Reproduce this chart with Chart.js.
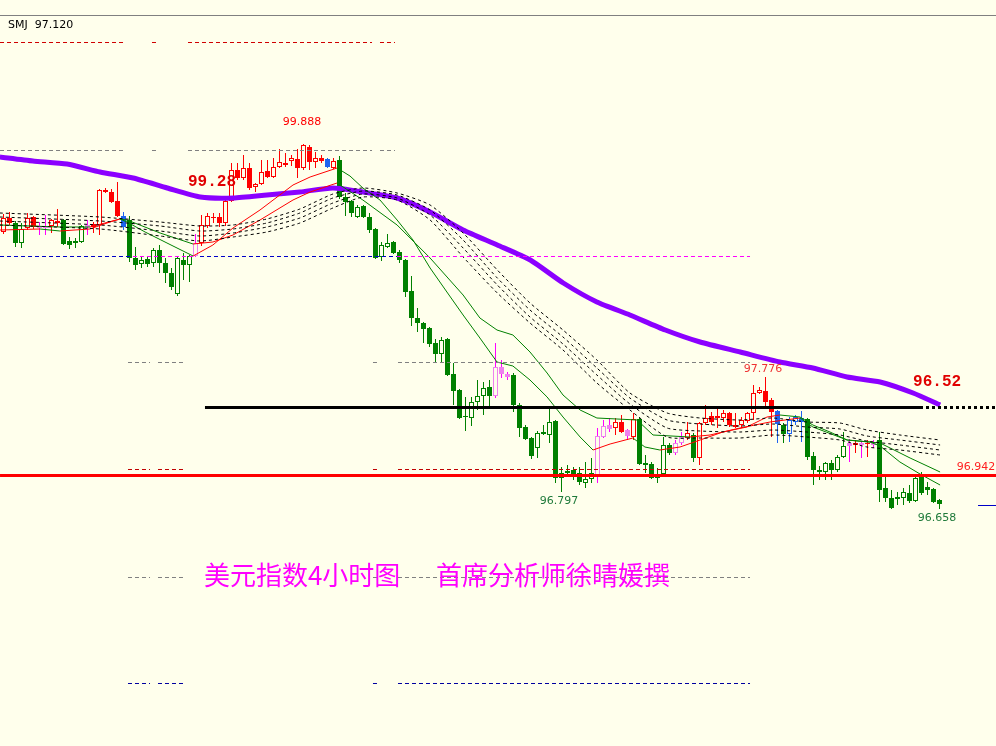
<!DOCTYPE html>
<html><head><meta charset="utf-8">
<script src="https://cdn.jsdelivr.net/npm/chart.js@4.4.1/dist/chart.umd.min.js"></script>
<style>
html,body{margin:0;padding:0;background:#FFFFEC;overflow:hidden}
#wrap{position:relative;width:996px;height:746px}
canvas{display:block}
</style></head>
<body><div id="wrap"><canvas id="c" width="996" height="746"></canvas></div>
<script>
// ---------- DATA ----------
const candleOpen = [99.102,99.228,99.183,99.003,99.138,99.237,99.156,99.147,99.156,99.201,
99.210,99.021,99.003,99.012,99.165,99.174,99.165,99.480,99.462,99.381,
99.246,99.210,98.868,98.814,98.859,98.823,98.940,98.823,98.733,98.544,
98.850,98.805,98.886,99.003,99.156,99.237,99.237,99.183,99.381,99.660,
99.588,99.678,99.507,99.534,99.651,99.597,99.687,99.723,99.741,99.759,
99.678,99.867,99.732,99.768,99.759,99.678,99.750,99.417,99.381,99.237,
99.336,99.237,99.129,98.877,98.967,99.012,98.922,98.850,98.571,98.328,
98.283,98.238,98.103,98.004,98.139,97.824,97.680,97.446,97.428,97.572,
97.626,97.707,97.626,97.887,97.824,97.815,97.545,97.347,97.248,97.158,
97.302,97.275,97.401,96.888,96.951,96.960,96.933,96.843,96.879,96.915,
97.257,97.365,97.338,97.392,97.320,97.257,97.419,97.023,97.014,96.888,
96.924,97.185,97.113,97.203,97.248,97.275,97.068,97.383,97.446,97.446,
97.428,97.473,97.365,97.365,97.401,97.473,97.653,97.671,97.590,97.491,
97.365,97.284,97.392,97.428,97.419,97.086,96.960,96.942,97.023,96.960,
97.077,97.203,97.203,97.203,97.203,97.203,97.230,96.798,96.708,96.717,
96.708,96.753,96.681,96.897,96.807,96.789,96.690];
const candleHigh = [99.264,99.282,99.201,99.183,99.273,99.246,99.192,99.255,99.219,99.309,
99.219,99.057,99.048,99.165,99.210,99.192,99.489,99.498,99.489,99.552,
99.282,99.246,98.967,98.877,98.877,98.958,98.985,98.868,98.778,98.877,
98.913,98.895,99.084,99.255,99.273,99.273,99.273,99.390,99.723,99.723,
99.795,99.723,99.543,99.750,99.750,99.768,99.849,99.813,99.795,99.849,
99.894,99.885,99.822,99.795,99.768,99.768,99.786,99.453,99.390,99.345,
99.345,99.273,99.138,99.012,99.084,99.021,98.940,98.859,98.706,98.418,
98.292,98.247,98.139,98.157,98.148,97.923,97.689,97.617,97.617,97.770,
97.752,97.770,98.103,97.950,97.842,97.833,97.563,97.365,97.257,97.311,
97.365,97.518,97.410,96.987,97.005,96.987,96.987,97.032,97.068,97.338,
97.410,97.428,97.428,97.455,97.329,97.473,97.428,97.095,97.032,96.978,
97.257,97.203,97.230,97.302,97.392,97.293,97.392,97.545,97.482,97.518,
97.500,97.482,97.473,97.437,97.482,97.725,97.707,97.797,97.608,97.500,
97.383,97.437,97.455,97.491,97.428,97.122,96.996,97.032,97.050,97.095,
97.302,97.239,97.230,97.221,97.230,97.230,97.302,96.897,96.780,96.762,
96.798,96.825,96.897,96.942,96.852,96.798,96.699];
const candleLow = [99.084,99.165,98.967,98.958,99.120,99.129,99.075,99.075,99.093,99.147,
98.985,98.949,98.958,99.003,99.075,99.093,99.075,99.453,99.363,99.237,
99.120,98.832,98.760,98.778,98.787,98.787,98.733,98.643,98.580,98.526,
98.670,98.652,98.877,98.976,99.138,99.183,99.147,99.156,99.372,99.570,
99.570,99.480,99.462,99.525,99.588,99.588,99.678,99.687,99.696,99.588,
99.660,99.660,99.678,99.723,99.678,99.669,99.399,99.246,99.237,99.228,
99.228,99.093,98.859,98.841,98.958,98.904,98.823,98.517,98.256,98.202,
98.103,98.067,97.923,97.923,97.806,97.545,97.419,97.311,97.356,97.500,
97.455,97.536,97.608,97.788,97.770,97.482,97.257,97.230,97.059,97.068,
97.275,97.203,96.843,96.762,96.897,96.870,96.825,96.798,96.843,96.843,
97.248,97.302,97.275,97.293,97.230,97.230,97.005,96.933,96.879,96.843,
96.915,97.095,97.095,97.185,97.230,97.032,97.005,97.365,97.365,97.338,
97.392,97.347,97.338,97.338,97.383,97.410,97.644,97.527,97.257,97.203,
97.203,97.212,97.365,97.212,97.050,96.825,96.870,96.870,96.870,96.942,
97.068,97.032,97.113,97.068,97.077,97.158,96.672,96.672,96.609,96.645,
96.645,96.663,96.672,96.735,96.735,96.663,96.609];
const candleClose = [99.228,99.183,99.003,99.129,99.228,99.147,99.138,99.138,99.210,99.183,
98.994,98.985,99.021,99.156,99.147,99.147,99.480,99.462,99.372,99.246,
99.147,98.868,98.805,98.850,98.814,98.940,98.823,98.733,98.607,98.868,
98.805,98.886,99.003,99.165,99.246,99.228,99.183,99.381,99.660,99.588,
99.678,99.498,99.534,99.642,99.597,99.687,99.732,99.705,99.768,99.678,
99.885,99.732,99.768,99.741,99.687,99.741,99.417,99.372,99.273,99.327,
99.237,99.120,98.868,98.985,99.003,98.913,98.850,98.562,98.328,98.283,
98.229,98.094,98.004,98.130,97.815,97.671,97.428,97.437,97.572,97.626,
97.698,97.626,97.887,97.824,97.797,97.545,97.338,97.239,97.086,97.293,
97.284,97.392,96.888,96.933,96.933,96.906,96.852,96.879,96.933,97.266,
97.356,97.329,97.392,97.302,97.266,97.419,97.014,97.005,96.888,96.924,
97.185,97.113,97.203,97.257,97.293,97.068,97.383,97.428,97.392,97.428,
97.473,97.365,97.347,97.410,97.473,97.653,97.680,97.572,97.482,97.374,
97.284,97.410,97.437,97.392,97.077,96.960,96.942,97.023,96.960,97.077,
97.176,97.176,97.185,97.185,97.194,97.185,96.780,96.708,96.618,96.699,
96.762,96.681,96.888,96.753,96.780,96.672,96.654];
// candle colour class per bar: g = green, r = red, p = violet, b = blue
const candleClass = ("rrggrrpprrggggprrrrrb" + "ggggggggggg" + "p" + "rrrrrrrrrrrrrrrrrrrrr" + "b" + "r" +
  "gggggggggggggggggggggggggg" + "ppp" + "gggggggggggggg" + "ppp" + "rr" + "p" + "r" + "gggggg" + "pp" + "r" + "g" +
  "rrrrrrrrrrrrr" + "b" + "g" + "bbb" + "ggggggg" + "prprp" + "ggggggggggg").split('');

// fast / slow moving averages (bar index, price)
const fastIdx = [-0.6,6.1,9.4,14.4,17.75,19.4,20.6,23.6,27.25,31.6,34.9,38.25,42.75,48.25,51.1,55.6,57.75,59.9,62.75,65.6,68.25,71.1,73.9,76.6,79.4,82.25,84.9,87.75,90.6,93.25,96.1,98.25,101.1,104.9,106.9,109.4,112.75,116.1,119.9,123.9,127.25,129.4,132.75,134.9,137.75,140.6,144.4,146.1,149.4,152.75,156.1];
const fastVal = [99.120,99.129,99.111,99.129,99.192,99.219,99.192,99.102,99.003,98.886,98.985,99.138,99.300,99.525,99.597,99.678,99.606,99.498,99.390,99.210,99.030,98.778,98.562,98.355,98.148,97.932,97.896,97.770,97.617,97.437,97.257,97.140,97.194,97.248,97.167,97.140,97.167,97.230,97.302,97.347,97.437,97.455,97.437,97.365,97.302,97.230,97.212,97.176,97.032,96.924,96.825];
const slowIdx = [-0.6,9.4,14.4,19.4,20.6,26.1,31.6,34.9,38.25,42.75,48.25,51.1,55.6,59.9,65.6,71.1,76.6,79.4,82.25,84.9,87.75,90.6,93.25,96.1,98.9,105.6,108.25,114.4,117.75,122.75,127.75,132.75,134.9,140.6,146.1,151.1,156.1];
const slowVal = [99.165,99.147,99.147,99.219,99.210,99.093,98.994,99.012,99.075,99.210,99.390,99.462,99.543,99.390,99.165,98.868,98.535,98.328,98.220,98.175,98.022,97.833,97.635,97.500,97.428,97.410,97.275,97.257,97.275,97.338,97.392,97.428,97.347,97.230,97.203,97.068,96.942];
// long moving average (purple)
const longIdx = [-0.6,4.9,10.6,16.1,21.6,27.3,32.8,38.3,43.9,49.4,54.9,59.9,65.6,71.1,76.6,82.3,87.8,93.3,98.9,104.4,110.3,116.1,122.8,129.4,134.9,140.6,146.1,151.6,156.1];
const longVal = [99.777,99.741,99.714,99.642,99.588,99.498,99.417,99.408,99.435,99.462,99.498,99.462,99.408,99.282,99.120,98.985,98.850,98.643,98.472,98.355,98.220,98.112,98.022,97.932,97.878,97.797,97.752,97.653,97.545];
// dashed band (four averages)
const bandIdx = [-0.6,16.1,26.1,32.75,38.25,43.9,49.4,54.9,59.9,65.6,71.1,76.6,82.3,87.75,93.25,98.9,104.4,110.6,116.1,122.75,128.25,133.9,139.4,143.9,149.4,156.1];
const band1 = [99.273,99.237,99.192,99.156,99.165,99.219,99.309,99.444,99.498,99.453,99.345,99.093,98.760,98.463,98.220,97.950,97.653,97.473,97.428,97.410,97.428,97.392,97.383,97.320,97.275,97.230];
const band2 = [99.237,99.201,99.156,99.111,99.129,99.183,99.273,99.408,99.471,99.435,99.300,99.030,98.688,98.400,98.157,97.878,97.608,97.410,97.374,97.356,97.374,97.347,97.329,97.266,97.230,97.185];
const band3 = [99.201,99.165,99.111,99.066,99.093,99.147,99.228,99.363,99.444,99.408,99.255,98.958,98.625,98.337,98.094,97.815,97.554,97.338,97.311,97.302,97.320,97.302,97.275,97.221,97.185,97.140];
const band4 = [99.165,99.129,99.066,99.021,99.057,99.102,99.183,99.318,99.417,99.390,99.210,98.877,98.553,98.283,98.040,97.743,97.500,97.257,97.248,97.248,97.275,97.257,97.230,97.167,97.140,97.095];

// horizontal price levels
const levelPrice = [100.812, 99.840, 98.886, 97.932, 96.969, 95.997, 95.043, 97.527, 96.915, 96.645];

// price annotations
const noteText  = ['99.888','99.28','97.776','96.797','96.658','96.942','96.52'];
const noteIdx   = [49.75, 34.75, 126.6, 92.6, 155.6, 162.1, 155.6];
const notePrice = [100.092, 99.552, 97.869, 96.681, 96.528, 96.987, 97.752];

const captionText = ['美元指数4小时图', '首席分析师徐晴媛撰'];
const captionIdx = [33.4, 72.1];
const captionPrice = 96.015;
const headerText = 'SMJ  97.120';

// ---------- STYLE ----------
const BG = '#FFFFEC';
const bodyCol = {g:'#008000', r:'#FF0000', p:'#EE82EE', b:'#1E64F0'};
const wickCol = {g:'#008000', r:'#FF0000', p:'#FF00FF', b:'#1E64F0'};
const spanA = [[-0.58,20.25],[24.75,25.42],[30.75,61.42],[62.75,65.25]];
const spanB = [[20.75,24.42],[25.75,30.25],[61.58,62.42],[65.75,124.42]];
const levelStyle = [
  {segs: spanA.map(s => ({a:s[0], b:s[1], c:'#D00000', w:1, d:[4,3]}))},
  {segs: spanA.map(s => ({a:s[0], b:s[1], c:'#808080', w:1, d:[4,3]}))},
  {segs: [{a:-0.58,b:21.58,c:'#0000C8',w:1,d:[4,3]},{a:21.58,b:31.58,c:'#FF00FF',w:1,d:[4,3]},
          {a:32.75,b:65.58,c:'#0000C8',w:1,d:[4,3]},{a:65.58,b:124.42,c:'#FF00FF',w:1,d:[4,3]}]},
  {segs: spanB.map(s => ({a:s[0], b:s[1], c:'#808080', w:1, d:[4,3]}))},
  {segs: spanB.map(s => ({a:s[0], b:s[1], c:'#C00000', w:1, d:[4,3]}))},
  {segs: spanB.map(s => ({a:s[0], b:s[1], c:'#808080', w:1, d:[4,3]}))},
  {segs: spanB.map(s => ({a:s[0], b:s[1], c:'#0000A0', w:1, d:[4,3]}))},
  {segs: [{a:33.58,b:152.75,c:'#000000',w:3,d:[]},{a:152.75,b:165.42,c:'#000000',w:3,d:[3,3]}]},
  {segs: [{a:-0.58,b:165.42,c:'#FF0000',w:3,d:[]}]},
  {segs: [{a:162.42,b:165.42,c:'#0000C8',w:1,d:[]}]}
];
const noteStyle = [
  {font:'11px "DejaVu Sans"', color:'#FF0000'},
  {font:'bold 16px "Liberation Mono"', color:'#E00000'},
  {font:'11px "DejaVu Sans"', color:'#EE3333'},
  {font:'11px "DejaVu Sans"', color:'#1F7A3A'},
  {font:'11px "DejaVu Sans"', color:'#1F7A3A'},
  {font:'11px "DejaVu Sans"', color:'#FF2020'},
  {font:'bold 16px "Liberation Mono"', color:'#E00000'}
];

// ---------- BUILD ----------
const idx = candleOpen.map((_, i) => i);
const isBull = i => candleClose[i] > candleOpen[i];
const pts = (xs, ys) => xs.map((x, k) => ({x, y: ys[k]}));
const trendSeg = {borderColor: c => c.p1.parsed.y > c.p0.parsed.y ? '#FF0000' : '#008000'};

const overlay = {
  id: 'overlay',
  afterDatasetsDraw(chart) {
    const ctx = chart.ctx, xs = chart.scales.x, ys = chart.scales.y;
    ctx.save();
    levelStyle.forEach((st, k) => {
      st.segs.forEach(s => {
        let py = Math.round(ys.getPixelForValue(levelPrice[k]));
        if (s.w % 2) py += 0.5;
        ctx.strokeStyle = s.c; ctx.lineWidth = s.w; ctx.setLineDash(s.d);
        ctx.beginPath();
        ctx.moveTo(xs.getPixelForValue(s.a), py);
        ctx.lineTo(xs.getPixelForValue(s.b), py);
        ctx.stroke();
      });
    });
    ctx.setLineDash([]);
    // window top border
    ctx.strokeStyle = '#808080'; ctx.lineWidth = 1;
    ctx.beginPath(); ctx.moveTo(0, 15.5); ctx.lineTo(chart.width, 15.5); ctx.stroke();
    ctx.fillStyle = '#000000'; ctx.font = '11px "DejaVu Sans"';
    ctx.textAlign = 'left'; ctx.textBaseline = 'middle';
    ctx.fillText(headerText, 8, 25);
    // annotations
    noteText.forEach((t, k) => {
      ctx.font = noteStyle[k].font; ctx.fillStyle = noteStyle[k].color;
      ctx.textAlign = 'center'; ctx.textBaseline = 'middle';
      ctx.fillText(t, xs.getPixelForValue(noteIdx[k]), ys.getPixelForValue(notePrice[k]));
    });
    ctx.font = '26px "Noto Sans CJK SC"'; ctx.fillStyle = '#FF00FF';
    ctx.textAlign = 'left'; ctx.textBaseline = 'middle';
    captionText.forEach((t, k) => ctx.fillText(t, xs.getPixelForValue(captionIdx[k]), ys.getPixelForValue(captionPrice)));
    ctx.restore();
  }
};

new Chart(document.getElementById('c'), {
  type: 'bar',
  data: {
    datasets: [
      {type:'bar', label:'body', data: idx.map(i => ({x:i, y:[candleOpen[i], candleClose[i]]})),
       barThickness:5, grouped:false, borderWidth:1, borderSkipped:false, inflateAmount:0, minBarLength:1,
       backgroundColor: idx.map(i => isBull(i) ? BG : bodyCol[candleClass[i]]),
       borderColor: idx.map(i => bodyCol[candleClass[i]]), order:10},
      {type:'bar', label:'wick', data: idx.map(i => ({x:i, y:[candleLow[i], candleHigh[i]]})),
       barThickness:1, grouped:false, borderWidth:0, inflateAmount:0,
       backgroundColor: idx.map(i => wickCol[candleClass[i]]), order:11},
      {type:'line', label:'fast', data: pts(fastIdx, fastVal), borderWidth:1, pointRadius:0, tension:0,
       borderColor:'#008000', segment: trendSeg, order:2},
      {type:'line', label:'slow', data: pts(slowIdx, slowVal), borderWidth:1, pointRadius:0, tension:0,
       borderColor:'#008000', segment: trendSeg, order:2},
      {type:'line', label:'long', data: pts(longIdx, longVal), borderWidth:5, pointRadius:0, tension:0.2,
       borderColor:'#8B00FF', order:3},
      ...[band1, band2, band3, band4].map((b, k) => ({type:'line', label:'band'+k, data: pts(bandIdx, b),
       borderWidth:1, pointRadius:0, tension:0.2, borderColor:'#000000', borderDash:[3,3], order:1}))
    ]
  },
  options: {
    responsive:false, animation:false, devicePixelRatio:1, events:[],
    layout:{padding:0},
    plugins:{legend:{display:false}, tooltip:{enabled:false}},
    scales:{
      x:{type:'linear', min:-0.58333, max:165.41667, display:false, offset:false, grid:{display:false}},
      y:{type:'linear', min:94.476, max:101.19, display:false, grid:{display:false}}
    }
  },
  plugins:[overlay]
});
</script>
</body></html>
